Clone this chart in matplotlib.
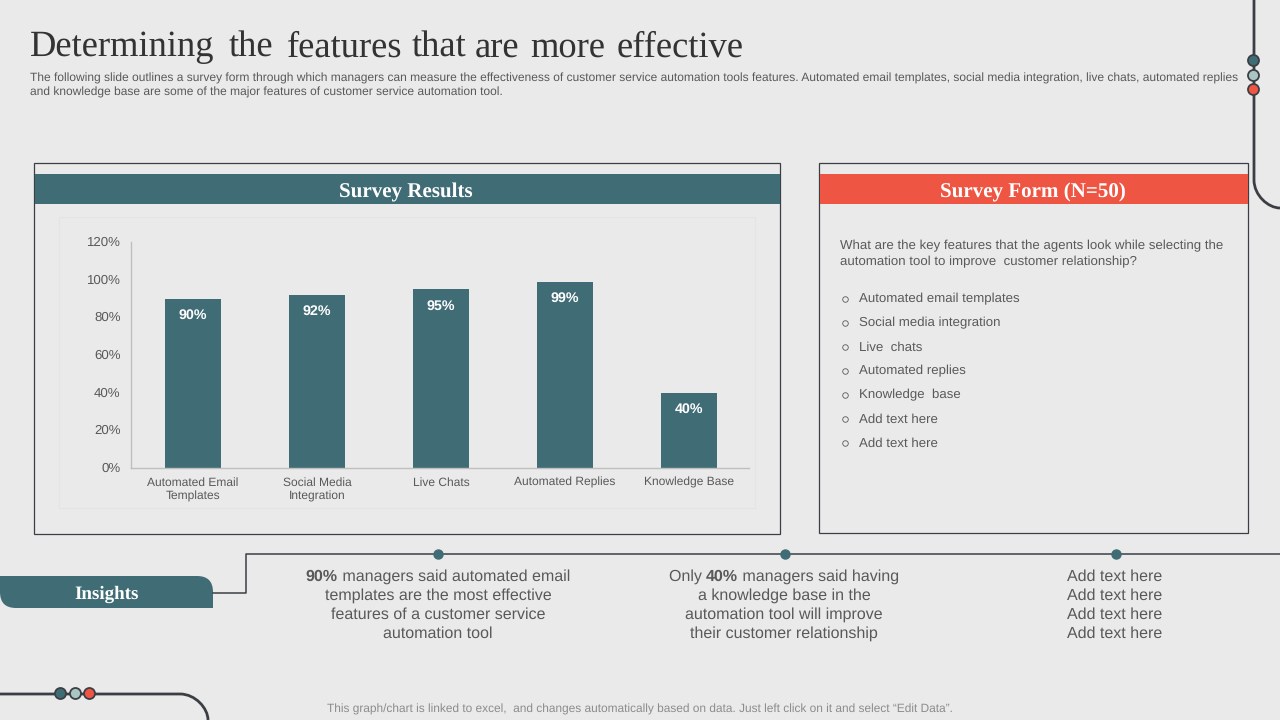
import matplotlib
matplotlib.use('Agg')
import matplotlib.pyplot as plt
from matplotlib.patches import Rectangle, PathPatch, Circle
from matplotlib.path import Path
from matplotlib.transforms import ScaledTranslation

plt.rcParams['font.family'] = ['Liberation Sans', 'DejaVu Sans']
plt.rcParams['text.hinting'] = 'none'

categories = ['Automated Email\nTemplates', 'Social Media\nIntegration', 'Live Chats',
              'Automated Replies', 'Knowledge Base']
values = [90, 92, 95, 99, 40]
value_labels = ['90%', '92%', '95%', '99%', '40%']
y_ticks = [0, 20, 40, 60, 80, 100, 120]
y_tick_labels = ['0%', '20%', '40%', '60%', '80%', '100%', '120%']
form_options = ['Automated email templates', 'Social media integration', 'Live  chats',
                'Automated replies', 'Knowledge  base', 'Add text here', 'Add text here']
title_words = ['Determining', 'the', 'features', 'that', 'are', 'more', 'effective']

BG = '#EAEAEA'
TEAL = '#406C75'
RED = '#EF5543'
PALE = '#A9C6C3'
DARK = '#3B3F45'
GREY = '#595959'

fig = plt.figure(figsize=(12.8, 7.2), dpi=100, facecolor=BG)
rend = fig.canvas.get_renderer()

# overlay in pixel coords for the slide furniture
bg = fig.add_axes([0, 0, 1, 1])
bg.set_xlim(0, 1280)
bg.set_ylim(720, 0)
bg.axis('off')

# title words are set one by one, the spacing is uneven in the original
for w, tx in zip(title_words, [30, 229, 287, 412, 475, 530, 617]):
    bg.text(tx, 47.5, w, family='Liberation Serif', fontsize=26.3, color='#333333', va='center', ha='left')

bg.text(30, 78, 'The following slide outlines a survey form through which managers can measure the effectiveness of customer service automation tools features. Automated email templates, social media integration, live chats, automated replies',
        fontsize=8.68, color=GREY, va='center')
bg.text(30, 92.5, 'and knowledge base are some of the major features of customer service automation tool.',
        fontsize=8.68, color=GREY, va='center')

# panels
bg.add_patch(Rectangle((34, 163), 746, 371, fc='none', ec=DARK, lw=0.9))
bg.add_patch(Rectangle((819, 163), 429, 370, fc='none', ec=DARK, lw=0.9))
bg.add_patch(Rectangle((35, 174), 745, 30, fc=TEAL, ec='none'))
bg.add_patch(Rectangle((820, 174), 428, 30, fc=RED, ec='none'))
bg.text(406, 192, 'Survey Results', family='Liberation Serif', weight='bold', fontsize=15.1,
        color='white', ha='center', va='center')
bg.text(1033, 192, 'Survey Form (N=50)', family='Liberation Serif', weight='bold', fontsize=15.1,
        color='white', ha='center', va='center')
bg.add_patch(Rectangle((59, 217), 696, 291, fc='none', ec='#E4E4E4', lw=0.9))

# right hand form
bg.text(840, 245.5, 'What are the key features that the agents look while selecting the',
        fontsize=9.5, color=GREY, va='center')
bg.text(840, 261.5, 'automation tool to improve  customer relationship?',
        fontsize=9.5, color=GREY, va='center')
for i, opt in enumerate(form_options):
    yy = 298.5 + i * 24
    bg.plot(844.5, yy, 'o', mfc='none', mec=GREY, ms=4, mew=0.6)
    bg.text(859, yy + 0.7, opt, fontsize=9.5, color=GREY, va='center')

# corner lines
lw_c = 2
k = 0.45
p = Path([(1254, 0), (1254, 180), (1254, 180 + 28 * (1 - k)), (1280 - 26 * k, 208), (1280, 208)],
         [Path.MOVETO, Path.LINETO, Path.CURVE4, Path.CURVE4, Path.CURVE4])
bg.add_patch(PathPatch(p, fc='none', ec=DARK, lw=lw_c))
p2 = Path([(0, 694), (180, 694), (180 + 28 * (1 - k), 694), (208, 720 - 26 * k), (208, 720)],
          [Path.MOVETO, Path.LINETO, Path.CURVE4, Path.CURVE4, Path.CURVE4])
bg.add_patch(PathPatch(p2, fc='none', ec=DARK, lw=lw_c))
for (x, y), c in zip([(1253.5, 60.5), (1253.5, 75.5), (1253.5, 89.5)], [TEAL, PALE, RED]):
    bg.add_patch(Circle((x, y), 5.5, fc=c, ec=DARK, lw=1.3, zorder=3))
for (x, y), c in zip([(60.5, 693.5), (75.5, 693.5), (89.5, 693.5)], [TEAL, PALE, RED]):
    bg.add_patch(Circle((x, y), 5.5, fc=c, ec=DARK, lw=1.3, zorder=3))

# insights band
r = 16
ins = Path([(0, 576), (213 - r, 576), (213, 576), (213, 576 + r), (213, 608), (r, 608), (0, 608), (0, 608 - r), (0, 576)],
           [Path.MOVETO, Path.LINETO, Path.CURVE3, Path.CURVE3, Path.LINETO, Path.LINETO, Path.CURVE3, Path.CURVE3, Path.CLOSEPOLY])
bg.add_patch(PathPatch(ins, fc=TEAL, ec='none'))
bg.text(106.5, 594.5, 'Insights', family='Liberation Serif', weight='bold', fontsize=13.7,
        color='white', ha='center', va='center')
bg.plot([213, 246, 246, 1280], [593, 593, 554, 554], color=DARK, lw=1.1)
for x in [438, 785, 1116]:
    bg.plot(x, 554, 'o', color=TEAL, ms=6.5, zorder=3)

col1 = [[('90%', True), (' managers said automated email', False)],
        'templates are the most effective', 'features of a customer service', 'automation tool']
col2 = [[('Only ', False), ('40%', True), (' managers said having', False)],
        'a knowledge base in the', 'automation tool will improve', 'their customer relationship']
col3 = ['Add text here'] * 4
line_ys = [576.5, 595.5, 614.5, 633.5]


def rich_line(x, y, parts):
    # centre mixed bold/regular runs by measuring them first
    runs = [bg.text(0, y, s, fontsize=11.5, color=GREY, va='center', weight='bold' if b else 'normal')
            for s, b in parts]
    widths = [t.get_window_extent(rend).width for t in runs]
    start = x - sum(widths) / 2
    for t, w in zip(runs, widths):
        t.set_x(start)
        start += w


for cx, col in zip([438, 784, 1115], [col1, col2, col3]):
    for yy, line in zip(line_ys, col):
        if isinstance(line, list):
            rich_line(cx, yy, line)
        else:
            bg.text(cx, yy, line, fontsize=11.5, color=GREY, ha='center', va='center')

bg.text(640, 709.5, 'This graph/chart is linked to excel,  and changes automatically based on data. Just left click on it and select \u201cEdit Data\u201d.',
        fontsize=8.6, color='#8C8C8C', ha='center', va='center')

# bar chart
ax = fig.add_axes([131 / 1280, 1 - 468 / 720, 620 / 1280, 226 / 720])
ax.patch.set_alpha(0)
xs = range(len(categories))
ax.bar(xs, values, width=0.45, color=TEAL)
for x, v, lab in zip(xs, values, value_labels):
    ax.text(x, v - 5.5, lab, color='white', weight='bold', fontsize=10.3, ha='center', va='top')
ax.set_xlim(-0.5, 4.5)
ax.set_ylim(0, 120)
ax.set_yticks(y_ticks)
ax.set_yticklabels(y_tick_labels, fontsize=9.5, color=GREY)
ax.set_xticks(list(xs))
ax.set_xticklabels(categories, fontsize=8.65, color=GREY, linespacing=1.35)
ax.tick_params(length=0, pad=6.5)
ax.tick_params(axis='y', pad=7.5)
# y labels sit a touch above their gridline position
nudge = ScaledTranslation(0, 0.6 / 72, fig.dpi_scale_trans)
for lab in ax.get_yticklabels():
    lab.set_transform(lab.get_transform() + nudge)
for s in ['top', 'right']:
    ax.spines[s].set_visible(False)
for s in ['left', 'bottom']:
    ax.spines[s].set_color('#BFBFBF')
    ax.spines[s].set_linewidth(1)
ax.spines['bottom'].set_bounds(-0.5, 4.48)

fig.savefig('out.png', dpi=100, facecolor=BG)
